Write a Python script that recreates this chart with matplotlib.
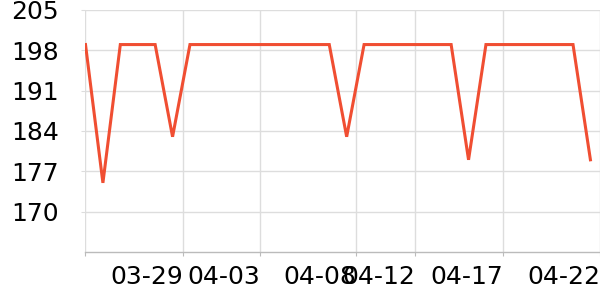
import matplotlib
matplotlib.use("Agg")
import matplotlib.pyplot as plt

# daily values (30 points)
values = [199, 175, 199, 199, 199, 183, 199, 199, 199, 199,
          199, 199, 199, 199, 199, 183, 199, 199, 199, 199,
          199, 199, 179, 199, 199, 199, 199, 199, 199, 179]

tick_pos = [0, 5.6, 10.02, 15.56, 18.95, 24.0, 29.55]
tick_labels = ["", "03-29", "04-03", "04-08", "04-12", "04-17", "04-22"]
y_ticks = [170, 177, 184, 191, 198, 205]

fig = plt.figure(figsize=(6, 3), dpi=100)
ax = fig.add_axes([0.1425, 0.16, 0.8575, 0.8067])

x = list(range(len(values)))
ax.plot(x, values, color="#f04e32", linewidth=2.2, solid_joinstyle="miter", zorder=3)

ax.set_xlim(0, 29.55)
ax.set_ylim(163, 205)
ax.set_yticks(y_ticks)
ax.set_xticks(tick_pos)
ax.set_xticklabels(tick_labels, ha="right")

ax.grid(True, color="#dddddd", linewidth=1)
for s in ["top", "right", "left"]:
    ax.spines[s].set_visible(False)
ax.spines["bottom"].set_color("#bbbbbb")
ax.spines["bottom"].set_linewidth(1)

ax.tick_params(axis="y", length=3, color="#dddddd", pad=16, labelsize=18)
ax.tick_params(axis="x", length=3, color="#bbbbbb", pad=6, labelsize=18)

fig.savefig("out.png", dpi=100)
